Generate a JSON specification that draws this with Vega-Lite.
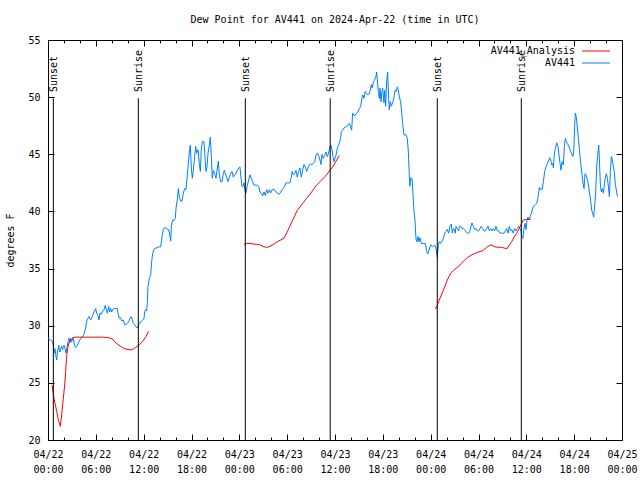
{
  "$schema": "https://vega.github.io/schema/vega-lite/v6.json",
  "width": 574,
  "height": 400,
  "autosize": {"type": "none"},
  "padding": {"left": 48, "top": 40, "right": 18, "bottom": 40},
  "background": "white",
  "config": {
    "view": {"stroke": "black", "strokeWidth": 1},
    "font": "DejaVu Sans Mono"
  },
  "title": {
    "text": "Dew Point for AV441 on 2024-Apr-22 (time in UTC)",
    "font": "DejaVu Sans Mono",
    "fontSize": 10,
    "fontWeight": "normal",
    "color": "black",
    "anchor": "middle",
    "baseline": "bottom",
    "offset": 0
  },
  "datasets": {
    "av441": [
      {"h":0.0,"v":28.9},{"h":0.33,"v":28.75},{"h":0.54,"v":28.6},{"h":0.67,"v":28.3},{"h":0.75,"v":27.6},{"h":0.88,"v":28.0},{"h":1.0,"v":27.3},{"h":1.09,"v":27.0},{"h":1.17,"v":27.6},{"h":1.25,"v":27.9},{"h":1.34,"v":28.3},{"h":1.42,"v":27.9},{"h":1.5,"v":27.7},{"h":1.59,"v":28.0},{"h":1.71,"v":28.2},{"h":1.84,"v":27.9},{"h":1.92,"v":28.2},{"h":2.01,"v":28.3},{"h":2.13,"v":28.0},{"h":2.26,"v":27.6},{"h":2.34,"v":28.0},{"h":2.51,"v":28.6},{"h":2.63,"v":28.9},{"h":2.76,"v":28.5},{"h":2.84,"v":28.9},{"h":2.97,"v":28.6},{"h":3.09,"v":28.8},{"h":3.18,"v":29.0},{"h":3.26,"v":28.5},{"h":3.34,"v":28.3},{"h":3.47,"v":28.1},{"h":3.68,"v":28.3},{"h":3.89,"v":28.6},{"h":4.1,"v":28.9},{"h":4.31,"v":29.0},{"h":4.51,"v":29.25},{"h":4.72,"v":29.8},{"h":4.85,"v":30.4},{"h":5.02,"v":30.65},{"h":5.14,"v":30.8},{"h":5.35,"v":30.5},{"h":5.48,"v":30.65},{"h":5.6,"v":30.9},{"h":5.77,"v":31.2},{"h":5.98,"v":31.5},{"h":6.1,"v":31.1},{"h":6.27,"v":30.9},{"h":6.4,"v":30.5},{"h":6.52,"v":31.1},{"h":6.69,"v":31.0},{"h":6.81,"v":31.2},{"h":7.02,"v":31.4},{"h":7.19,"v":31.8},{"h":7.32,"v":31.4},{"h":7.44,"v":31.1},{"h":7.61,"v":31.7},{"h":7.73,"v":31.2},{"h":7.86,"v":31.5},{"h":7.99,"v":31.2},{"h":8.11,"v":31.4},{"h":8.28,"v":31.5},{"h":8.49,"v":31.5},{"h":8.7,"v":31.5},{"h":8.78,"v":31.1},{"h":8.95,"v":30.65},{"h":9.11,"v":30.7},{"h":9.28,"v":30.4},{"h":9.45,"v":30.5},{"h":9.62,"v":30.1},{"h":9.78,"v":30.1},{"h":9.95,"v":30.2},{"h":10.16,"v":30.4},{"h":10.29,"v":30.65},{"h":10.45,"v":30.8},{"h":10.58,"v":30.5},{"h":10.7,"v":30.2},{"h":10.87,"v":30.1},{"h":11.04,"v":29.9},{"h":11.21,"v":29.8},{"h":11.37,"v":30.1},{"h":11.54,"v":30.2},{"h":11.71,"v":30.4},{"h":11.87,"v":30.5},{"h":12.04,"v":30.6},{"h":12.12,"v":31.2},{"h":12.25,"v":31.4},{"h":12.38,"v":31.3},{"h":12.46,"v":32.0},{"h":12.54,"v":33.4},{"h":12.71,"v":34.15},{"h":12.88,"v":34.4},{"h":13.0,"v":35.6},{"h":13.13,"v":36.3},{"h":13.3,"v":36.7},{"h":13.55,"v":36.8},{"h":13.88,"v":36.9},{"h":14.13,"v":36.9},{"h":14.3,"v":37.8},{"h":14.47,"v":38.4},{"h":14.63,"v":38.6},{"h":14.88,"v":38.5},{"h":15.14,"v":38.4},{"h":15.3,"v":37.8},{"h":15.39,"v":37.4},{"h":15.47,"v":38.7},{"h":15.64,"v":39.25},{"h":15.8,"v":39.2},{"h":15.97,"v":39.4},{"h":16.06,"v":40.3},{"h":16.22,"v":41.0},{"h":16.35,"v":42.0},{"h":16.47,"v":41.3},{"h":16.64,"v":40.9},{"h":16.81,"v":40.9},{"h":16.98,"v":41.6},{"h":17.14,"v":42.0},{"h":17.31,"v":41.9},{"h":17.48,"v":43.2},{"h":17.6,"v":44.2},{"h":17.73,"v":45.2},{"h":17.85,"v":45.8},{"h":17.98,"v":43.8},{"h":18.1,"v":42.9},{"h":18.23,"v":43.6},{"h":18.4,"v":44.8},{"h":18.52,"v":45.7},{"h":18.65,"v":45.1},{"h":18.82,"v":45.4},{"h":18.98,"v":44.2},{"h":19.11,"v":43.5},{"h":19.23,"v":45.4},{"h":19.36,"v":46.1},{"h":19.57,"v":46.1},{"h":19.69,"v":44.8},{"h":19.82,"v":43.5},{"h":19.95,"v":43.9},{"h":20.07,"v":45.1},{"h":20.24,"v":45.8},{"h":20.36,"v":46.5},{"h":20.49,"v":44.8},{"h":20.61,"v":42.9},{"h":20.74,"v":43.6},{"h":20.91,"v":43.3},{"h":21.07,"v":42.9},{"h":21.24,"v":43.8},{"h":21.37,"v":44.4},{"h":21.49,"v":43.2},{"h":21.66,"v":42.6},{"h":21.83,"v":42.6},{"h":21.99,"v":43.3},{"h":22.12,"v":43.6},{"h":22.24,"v":43.3},{"h":22.41,"v":43.0},{"h":22.58,"v":42.6},{"h":22.75,"v":43.0},{"h":22.91,"v":43.3},{"h":23.08,"v":43.5},{"h":23.25,"v":43.0},{"h":23.41,"v":43.2},{"h":23.58,"v":43.3},{"h":23.75,"v":43.6},{"h":23.92,"v":43.8},{"h":24.08,"v":43.9},{"h":24.2,"v":43.0},{"h":24.33,"v":42.2},{"h":24.46,"v":42.2},{"h":24.59,"v":42.5},{"h":24.75,"v":41.7},{"h":24.83,"v":41.6},{"h":25.0,"v":42.3},{"h":25.17,"v":42.75},{"h":25.33,"v":43.2},{"h":25.5,"v":42.9},{"h":25.67,"v":42.6},{"h":25.84,"v":42.3},{"h":26.09,"v":42.3},{"h":26.25,"v":42.3},{"h":26.42,"v":42.2},{"h":26.59,"v":41.7},{"h":26.76,"v":41.6},{"h":26.92,"v":41.35},{"h":27.09,"v":41.7},{"h":27.26,"v":41.4},{"h":27.42,"v":41.9},{"h":27.59,"v":41.6},{"h":27.76,"v":41.9},{"h":27.93,"v":41.6},{"h":28.09,"v":41.9},{"h":28.26,"v":41.9},{"h":28.43,"v":41.9},{"h":28.6,"v":41.7},{"h":28.76,"v":41.6},{"h":29.01,"v":41.5},{"h":29.18,"v":41.7},{"h":29.35,"v":41.9},{"h":29.52,"v":42.0},{"h":29.68,"v":42.2},{"h":29.85,"v":42.5},{"h":30.02,"v":42.5},{"h":30.18,"v":42.5},{"h":30.35,"v":42.5},{"h":30.52,"v":43.0},{"h":30.64,"v":43.5},{"h":30.77,"v":43.2},{"h":30.94,"v":43.3},{"h":31.1,"v":43.6},{"h":31.27,"v":43.0},{"h":31.44,"v":43.5},{"h":31.61,"v":43.8},{"h":31.77,"v":43.0},{"h":31.94,"v":43.6},{"h":32.11,"v":44.1},{"h":32.28,"v":43.9},{"h":32.44,"v":43.5},{"h":32.61,"v":43.8},{"h":32.78,"v":44.1},{"h":32.94,"v":44.15},{"h":33.11,"v":44.1},{"h":33.28,"v":44.2},{"h":33.45,"v":44.35},{"h":33.61,"v":44.9},{"h":33.78,"v":45.1},{"h":33.95,"v":44.85},{"h":34.12,"v":44.5},{"h":34.24,"v":44.1},{"h":34.37,"v":45.0},{"h":34.53,"v":44.65},{"h":34.7,"v":44.9},{"h":34.87,"v":45.2},{"h":35.04,"v":44.8},{"h":35.2,"v":45.1},{"h":35.37,"v":45.7},{"h":35.5,"v":45.8},{"h":35.62,"v":45.4},{"h":35.75,"v":44.8},{"h":35.87,"v":44.35},{"h":36.0,"v":44.65},{"h":36.12,"v":44.9},{"h":36.25,"v":45.4},{"h":36.37,"v":45.7},{"h":36.54,"v":45.96},{"h":36.71,"v":46.4},{"h":36.79,"v":47.0},{"h":36.96,"v":47.1},{"h":37.13,"v":47.3},{"h":37.29,"v":47.4},{"h":37.46,"v":47.4},{"h":37.63,"v":47.6},{"h":37.8,"v":47.7},{"h":37.96,"v":47.4},{"h":38.09,"v":47.1},{"h":38.21,"v":48.6},{"h":38.38,"v":48.4},{"h":38.55,"v":48.4},{"h":38.71,"v":48.6},{"h":38.88,"v":48.7},{"h":39.05,"v":49.0},{"h":39.22,"v":49.2},{"h":39.34,"v":49.75},{"h":39.47,"v":50.2},{"h":39.63,"v":49.9},{"h":39.8,"v":50.5},{"h":39.97,"v":50.3},{"h":40.14,"v":50.2},{"h":40.3,"v":50.3},{"h":40.43,"v":50.6},{"h":40.55,"v":51.1},{"h":40.68,"v":50.8},{"h":40.81,"v":51.35},{"h":40.97,"v":51.5},{"h":41.14,"v":51.8},{"h":41.22,"v":52.2},{"h":41.31,"v":51.5},{"h":41.43,"v":50.5},{"h":41.56,"v":49.9},{"h":41.64,"v":50.8},{"h":41.77,"v":49.6},{"h":41.89,"v":50.5},{"h":41.98,"v":50.8},{"h":42.14,"v":49.5},{"h":42.23,"v":50.6},{"h":42.35,"v":49.2},{"h":42.48,"v":51.35},{"h":42.6,"v":52.2},{"h":42.73,"v":49.9},{"h":42.81,"v":48.9},{"h":42.94,"v":49.6},{"h":43.06,"v":49.2},{"h":43.23,"v":49.5},{"h":43.4,"v":50.0},{"h":43.52,"v":50.6},{"h":43.69,"v":50.5},{"h":43.82,"v":50.9},{"h":43.94,"v":50.6},{"h":44.07,"v":50.0},{"h":44.23,"v":49.6},{"h":44.36,"v":48.7},{"h":44.49,"v":47.6},{"h":44.65,"v":46.7},{"h":44.9,"v":46.7},{"h":45.07,"v":46.4},{"h":45.2,"v":45.2},{"h":45.32,"v":43.2},{"h":45.4,"v":42.2},{"h":45.49,"v":42.9},{"h":45.66,"v":42.9},{"h":45.78,"v":41.6},{"h":45.91,"v":40.0},{"h":46.03,"v":39.25},{"h":46.16,"v":37.6},{"h":46.28,"v":37.35},{"h":46.41,"v":37.8},{"h":46.53,"v":37.35},{"h":46.66,"v":37.7},{"h":46.83,"v":37.2},{"h":47.08,"v":37.2},{"h":47.33,"v":37.2},{"h":47.5,"v":36.5},{"h":47.66,"v":36.3},{"h":47.83,"v":36.7},{"h":48.0,"v":37.06},{"h":48.25,"v":36.9},{"h":48.5,"v":37.06},{"h":48.67,"v":36.8},{"h":48.83,"v":36.0},{"h":48.96,"v":37.06},{"h":49.08,"v":37.35},{"h":49.25,"v":37.2},{"h":49.42,"v":37.4},{"h":49.59,"v":37.6},{"h":49.75,"v":38.1},{"h":49.92,"v":38.23},{"h":50.09,"v":38.43},{"h":50.26,"v":38.1},{"h":50.42,"v":38.7},{"h":50.59,"v":38.9},{"h":50.72,"v":38.1},{"h":50.84,"v":38.5},{"h":50.97,"v":38.4},{"h":51.09,"v":38.1},{"h":51.18,"v":38.7},{"h":51.34,"v":38.5},{"h":51.51,"v":38.3},{"h":51.6,"v":38.7},{"h":51.76,"v":38.7},{"h":51.93,"v":38.5},{"h":52.1,"v":38.5},{"h":52.26,"v":38.4},{"h":52.43,"v":38.23},{"h":52.6,"v":38.1},{"h":52.77,"v":38.1},{"h":52.93,"v":38.3},{"h":53.1,"v":38.8},{"h":53.18,"v":39.0},{"h":53.35,"v":38.7},{"h":53.52,"v":38.4},{"h":53.68,"v":38.5},{"h":53.85,"v":38.3},{"h":54.02,"v":38.3},{"h":54.19,"v":38.5},{"h":54.35,"v":38.7},{"h":54.52,"v":38.5},{"h":54.69,"v":38.3},{"h":54.86,"v":38.3},{"h":55.02,"v":38.5},{"h":55.19,"v":38.7},{"h":55.36,"v":38.3},{"h":55.52,"v":38.5},{"h":55.69,"v":38.3},{"h":55.86,"v":38.5},{"h":56.03,"v":38.3},{"h":56.19,"v":38.7},{"h":56.36,"v":38.3},{"h":56.53,"v":38.3},{"h":56.7,"v":38.1},{"h":56.86,"v":38.1},{"h":57.03,"v":38.1},{"h":57.2,"v":38.1},{"h":57.37,"v":38.3},{"h":57.53,"v":38.5},{"h":57.7,"v":38.1},{"h":57.87,"v":38.7},{"h":58.03,"v":38.3},{"h":58.2,"v":38.4},{"h":58.37,"v":38.1},{"h":58.54,"v":38.5},{"h":58.7,"v":38.3},{"h":58.87,"v":38.5},{"h":59.04,"v":38.7},{"h":59.2,"v":38.5},{"h":59.33,"v":38.3},{"h":59.45,"v":37.8},{"h":59.58,"v":37.65},{"h":59.7,"v":38.5},{"h":59.83,"v":38.96},{"h":59.96,"v":38.4},{"h":60.08,"v":39.25},{"h":60.21,"v":39.5},{"h":60.37,"v":39.25},{"h":60.54,"v":39.7},{"h":60.63,"v":39.8},{"h":60.8,"v":40.3},{"h":60.97,"v":40.5},{"h":61.13,"v":40.6},{"h":61.3,"v":40.7},{"h":61.43,"v":41.1},{"h":61.55,"v":41.7},{"h":61.63,"v":42.1},{"h":61.72,"v":41.9},{"h":61.84,"v":42.0},{"h":61.97,"v":41.9},{"h":62.14,"v":42.6},{"h":62.3,"v":43.5},{"h":62.47,"v":43.9},{"h":62.64,"v":44.2},{"h":62.81,"v":44.5},{"h":62.93,"v":44.7},{"h":63.06,"v":44.5},{"h":63.18,"v":44.06},{"h":63.31,"v":44.2},{"h":63.39,"v":43.8},{"h":63.52,"v":45.1},{"h":63.64,"v":45.5},{"h":63.81,"v":46.0},{"h":63.98,"v":45.7},{"h":64.1,"v":44.9},{"h":64.23,"v":44.2},{"h":64.35,"v":43.6},{"h":64.48,"v":44.35},{"h":64.65,"v":44.06},{"h":64.77,"v":45.7},{"h":64.9,"v":46.4},{"h":65.02,"v":46.1},{"h":65.15,"v":45.96},{"h":65.32,"v":45.7},{"h":65.48,"v":45.4},{"h":65.65,"v":45.1},{"h":65.82,"v":44.8},{"h":65.94,"v":45.2},{"h":66.07,"v":47.6},{"h":66.15,"v":48.6},{"h":66.28,"v":48.2},{"h":66.4,"v":47.3},{"h":66.53,"v":46.4},{"h":66.65,"v":45.5},{"h":66.82,"v":44.2},{"h":66.99,"v":43.2},{"h":67.11,"v":42.5},{"h":67.24,"v":42.0},{"h":67.36,"v":43.3},{"h":67.49,"v":43.2},{"h":67.61,"v":42.9},{"h":67.74,"v":42.5},{"h":67.91,"v":41.7},{"h":68.08,"v":40.9},{"h":68.2,"v":40.1},{"h":68.33,"v":39.8},{"h":68.45,"v":39.5},{"h":68.58,"v":40.6},{"h":68.7,"v":41.7},{"h":68.83,"v":44.06},{"h":68.95,"v":44.9},{"h":69.08,"v":45.8},{"h":69.16,"v":44.6},{"h":69.29,"v":42.3},{"h":69.41,"v":41.7},{"h":69.54,"v":42.0},{"h":69.66,"v":41.6},{"h":69.79,"v":42.3},{"h":69.92,"v":43.0},{"h":70.04,"v":43.3},{"h":70.17,"v":42.9},{"h":70.29,"v":42.2},{"h":70.42,"v":41.3},{"h":70.54,"v":43.5},{"h":70.67,"v":44.8},{"h":70.79,"v":44.5},{"h":70.92,"v":43.9},{"h":71.04,"v":43.5},{"h":71.17,"v":42.3},{"h":71.29,"v":41.9},{"h":71.42,"v":41.3}
    ],
    "analysis": [
      {"run":1,"h":0.5,"v":24.8},{"run":1,"h":0.59,"v":24.4},{"run":1,"h":0.75,"v":23.65},{"run":1,"h":0.92,"v":23.1},{"run":1,"h":1.09,"v":22.5},{"run":1,"h":1.25,"v":21.9},{"run":1,"h":1.42,"v":21.5},{"run":1,"h":1.55,"v":21.2},{"run":1,"h":1.67,"v":21.9},{"run":1,"h":1.8,"v":22.8},{"run":1,"h":1.92,"v":23.65},{"run":1,"h":2.09,"v":24.8},{"run":1,"h":2.22,"v":26.0},{"run":1,"h":2.34,"v":27.3},{"run":1,"h":2.47,"v":28.0},{"run":1,"h":2.63,"v":28.5},{"run":1,"h":2.84,"v":28.75},{"run":1,"h":3.05,"v":28.9},{"run":1,"h":3.26,"v":29.0},{"run":1,"h":4.0,"v":29.0},{"run":1,"h":5.0,"v":29.0},{"run":1,"h":6.0,"v":29.0},{"run":1,"h":7.0,"v":29.0},{"run":1,"h":7.6,"v":28.95},{"run":1,"h":8.1,"v":28.84},{"run":1,"h":8.36,"v":28.6},{"run":1,"h":8.7,"v":28.4},{"run":1,"h":9.11,"v":28.2},{"run":1,"h":9.53,"v":28.0},{"run":1,"h":10.16,"v":27.9},{"run":1,"h":10.58,"v":27.9},{"run":1,"h":11.0,"v":28.1},{"run":1,"h":11.41,"v":28.3},{"run":1,"h":11.83,"v":28.6},{"run":1,"h":12.25,"v":29.0},{"run":1,"h":12.6,"v":29.5},
      {"run":2,"h":24.58,"v":37.12},{"run":2,"h":24.92,"v":37.2},{"run":2,"h":25.33,"v":37.2},{"run":2,"h":25.75,"v":37.15},{"run":2,"h":26.17,"v":37.12},{"run":2,"h":26.67,"v":37.06},{"run":2,"h":27.09,"v":36.9},{"run":2,"h":27.51,"v":36.86},{"run":2,"h":27.93,"v":36.97},{"run":2,"h":28.34,"v":37.15},{"run":2,"h":28.76,"v":37.35},{"run":2,"h":29.18,"v":37.5},{"run":2,"h":29.6,"v":37.65},{"run":2,"h":29.93,"v":38.1},{"run":2,"h":30.27,"v":38.6},{"run":2,"h":30.6,"v":39.1},{"run":2,"h":30.94,"v":39.6},{"run":2,"h":31.27,"v":40.1},{"run":2,"h":31.61,"v":40.4},{"run":2,"h":32.02,"v":40.77},{"run":2,"h":32.44,"v":41.15},{"run":2,"h":32.86,"v":41.5},{"run":2,"h":33.28,"v":41.9},{"run":2,"h":33.7,"v":42.3},{"run":2,"h":34.12,"v":42.6},{"run":2,"h":34.53,"v":42.9},{"run":2,"h":34.95,"v":43.2},{"run":2,"h":35.37,"v":43.6},{"run":2,"h":35.79,"v":43.97},{"run":2,"h":36.21,"v":44.5},{"run":2,"h":36.54,"v":44.9},
      {"run":3,"h":48.58,"v":31.46},{"run":3,"h":48.83,"v":31.8},{"run":3,"h":49.08,"v":32.25},{"run":3,"h":49.34,"v":32.69},{"run":3,"h":49.59,"v":33.1},{"run":3,"h":49.84,"v":33.56},{"run":3,"h":50.09,"v":34.0},{"run":3,"h":50.34,"v":34.35},{"run":3,"h":50.59,"v":34.64},{"run":3,"h":50.84,"v":34.82},{"run":3,"h":51.18,"v":35.02},{"run":3,"h":51.51,"v":35.2},{"run":3,"h":51.85,"v":35.46},{"run":3,"h":52.18,"v":35.69},{"run":3,"h":52.51,"v":35.9},{"run":3,"h":52.93,"v":36.1},{"run":3,"h":53.35,"v":36.27},{"run":3,"h":53.77,"v":36.39},{"run":3,"h":54.19,"v":36.48},{"run":3,"h":54.6,"v":36.6},{"run":3,"h":55.02,"v":36.86},{"run":3,"h":55.44,"v":37.03},{"run":3,"h":55.69,"v":37.06},{"run":3,"h":56.07,"v":36.9},{"run":3,"h":56.49,"v":36.86},{"run":3,"h":56.9,"v":36.86},{"run":3,"h":57.32,"v":36.77},{"run":3,"h":57.62,"v":36.77},{"run":3,"h":57.87,"v":37.06},{"run":3,"h":58.16,"v":37.35},{"run":3,"h":58.45,"v":37.73},{"run":3,"h":58.79,"v":38.08},{"run":3,"h":59.12,"v":38.52},{"run":3,"h":59.41,"v":38.96},{"run":3,"h":59.62,"v":39.25},{"run":3,"h":60.04,"v":39.3},{"run":3,"h":60.54,"v":39.3}
    ],
    "sun": [
      {"h":0.67,"event":"Sunset"},{"h":11.33,"event":"Sunrise"},{"h":24.75,"event":"Sunset"},{"h":35.4,"event":"Sunrise"},{"h":48.83,"event":"Sunset"},{"h":59.37,"event":"Sunrise"}
    ]
  },
  "resolve": {"axis": {"x": "independent", "y": "independent"}},
  "layer": [
    {
      "data": {"name": "av441"},
      "mark": {"type": "line", "strokeWidth": 1, "interpolate": "linear"},
      "encoding": {
        "x": {
          "field": "h", "type": "quantitative",
          "scale": {"domain": [0, 72], "nice": false, "zero": false},
          "axis": {
            "orient": "bottom",
            "title": null,
            "values": [0,2,4,6,8,10,12,14,16,18,20,22,24,26,28,30,32,34,36,38,40,42,44,46,48,50,52,54,56,58,60,62,64,66,68,70,72],
            "labelExpr": "datum.value % 6 == 0 ? ['04/' + (22 + floor(datum.value / 24)), ((datum.value % 24) < 10 ? '0' : '') + (datum.value % 24) + ':00'] : ''",
            "tickSize": {"condition": {"test": "datum.value % 6 == 0", "value": -6}, "value": -3},
            "tickColor": "black",
            "domain": false,
            "grid": false,
            "labelFont": "DejaVu Sans Mono",
            "labelFontSize": 10,
            "labelColor": "black",
            "labelPadding": 15,
            "labelLineHeight": 15,
            "labelOverlap": false,
            "labelFlush": false,
            "labelBound": false
          }
        },
        "y": {
          "field": "v", "type": "quantitative",
          "scale": {"domain": [20, 55], "nice": false, "zero": false},
          "axis": {
            "orient": "left",
            "title": "degrees F",
            "titleFont": "DejaVu Sans Mono",
            "titleFontSize": 10,
            "titleFontWeight": "normal",
            "titleColor": "black",
            "titlePadding": 12,
            "values": [20,25,30,35,40,45,50,55],
            "tickSize": -6,
            "tickColor": "black",
            "domain": false,
            "grid": false,
            "labelFont": "DejaVu Sans Mono",
            "labelFontSize": 10,
            "labelColor": "black",
            "labelPadding": 14,
            "labelOverlap": false,
            "labelFlush": false,
            "labelBound": false
          }
        },
        "color": {
          "datum": "AV441",
          "scale": {"domain": ["AV441_Analysis", "AV441"], "range": ["#ff0000", "#0080ff"]},
          "legend": {
            "orient": "none",
            "legendX": 543,
            "legendY": 6,
            "title": null,
            "padding": 0,
            "symbolType": "M-14,0H14",
            "symbolSize": 4,
            "symbolStrokeWidth": 1,
            "symbolFillColor": "transparent",
            "labelAlign": "right",
            "labelOffset": -26,
            "labelFont": "DejaVu Sans Mono",
            "labelFontSize": 10,
            "labelColor": "black",
            "rowPadding": 2,
            "labelLimit": 0
          }
        }
      }
    },
    {
      "data": {"name": "analysis"},
      "mark": {"type": "line", "strokeWidth": 1},
      "encoding": {
        "x": {
          "field": "h", "type": "quantitative",
          "axis": {
            "orient": "top",
            "title": null,
            "values": [0,2,4,6,8,10,12,14,16,18,20,22,24,26,28,30,32,34,36,38,40,42,44,46,48,50,52,54,56,58,60,62,64,66,68,70,72],
            "labels": false,
            "tickSize": {"condition": {"test": "datum.value % 6 == 0", "value": -6}, "value": -3},
            "tickColor": "black",
            "domain": false,
            "grid": false
          }
        },
        "y": {
          "field": "v", "type": "quantitative",
          "axis": {
            "orient": "right",
            "title": null,
            "values": [20,25,30,35,40,45,50,55],
            "labels": false,
            "tickSize": -6,
            "tickColor": "black",
            "domain": false,
            "grid": false
          }
        },
        "detail": {"field": "run", "type": "nominal"},
        "color": {"datum": "AV441_Analysis"}
      }
    },
    {
      "data": {"name": "sun"},
      "mark": {"type": "rule", "color": "black", "strokeWidth": 1},
      "encoding": {
        "x": {"field": "h", "type": "quantitative", "axis": null},
        "y": {"datum": 20, "axis": null},
        "y2": {"datum": 49.9}
      }
    },
    {
      "data": {"name": "sun"},
      "mark": {"type": "text", "angle": 270, "align": "left", "baseline": "middle", "font": "DejaVu Sans Mono", "fontSize": 10, "color": "black", "dy": 1},
      "encoding": {
        "x": {"field": "h", "type": "quantitative", "axis": null},
        "y": {"datum": 50.45, "axis": null},
        "text": {"field": "event"}
      }
    }
  ]
}
